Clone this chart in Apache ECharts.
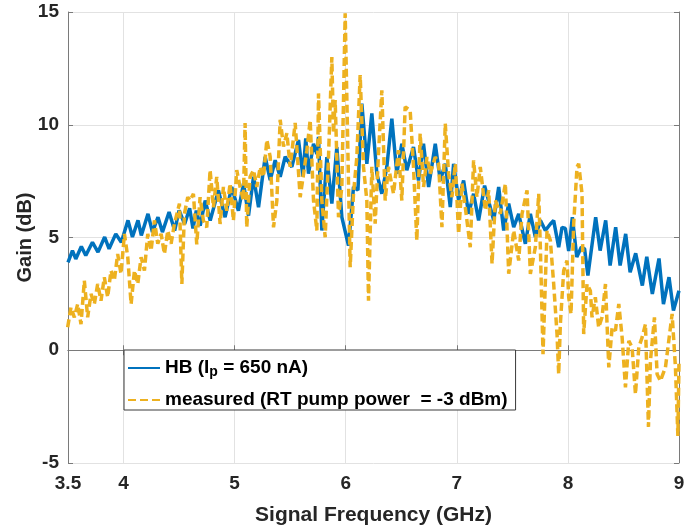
<!DOCTYPE html>
<html><head><meta charset="utf-8">
<script src="https://cdn.jsdelivr.net/npm/echarts@6/dist/echarts.min.js"></script>
<style>html,body{margin:0;padding:0;background:#fff}#c{width:684px;height:527px}</style>
</head><body><div id="c"></div>
<script>
const xTicks = [3.5, 4, 5, 6, 7, 8, 9];
const yTicks = [-5, 0, 5, 10, 15];
const seriesNames = ['HB', 'measured (RT pump power  = -3 dBm)'];

const hbFreq = [3.50,3.54,3.57,3.62,3.66,3.72,3.77,3.83,3.87,3.93,3.98,4.04,4.08,4.13,4.16,4.22,4.26,4.31,4.35,4.41,4.46,4.50,4.55,4.595,4.625,4.655,4.69,4.735,4.78,4.854,4.914,4.974,5.034,5.08,5.125,5.17,5.215,5.275,5.32,5.365,5.41,5.455,5.515,5.575,5.615,5.64,5.665,5.71,5.74,5.755,5.785,5.83,5.875,5.92,5.965,6.025,6.07,6.11,6.145,6.19,6.235,6.28,6.325,6.37,6.415,6.46,6.505,6.55,6.61,6.655,6.70,6.746,6.806,6.851,6.896,6.941,6.971,7.016,7.061,7.106,7.151,7.196,7.25,7.332,7.377,7.422,7.467,7.512,7.557,7.617,7.662,7.707,7.752,7.797,7.842,7.872,7.917,7.947,7.977,8.007,8.04,8.08,8.12,8.15,8.18,8.25,8.29,8.34,8.38,8.43,8.47,8.52,8.56,8.61,8.67,8.71,8.76,8.82,8.86,8.91,8.95,9.0];
const hbGain = [3.9,4.42,4.05,4.6,4.2,4.79,4.35,5.02,4.5,5.16,4.79,5.76,5.02,5.76,5.09,6.05,5.24,5.9,5.24,6.13,5.31,6.2,5.6,6.3,5.4,6.19,5.52,6.64,5.75,7.09,5.9,7.24,6.19,7.39,5.97,7.69,6.34,8.58,7.54,8.43,7.69,8.58,8.13,9.33,7.7,9.4,7.83,9.16,8.7,9.46,5.31,8.57,6.5,9.01,5.9,4.64,7.24,7.1,10.94,8.27,10.5,7.83,6.94,8.13,10.27,7.83,9.16,7.98,9.01,7.53,9.16,7.24,9.16,7.53,8.27,6.35,8.27,6.65,7.53,6.05,6.94,5.76,7.3,5.76,7.24,5.31,6.5,5.46,6.05,4.72,6.05,5.02,5.76,5.31,5.6,5.75,4.57,5.45,5.4,4.4,5.9,4.13,4.57,4.5,3.31,5.9,4.42,5.76,3.76,5.46,3.76,5.16,3.46,4.3,2.87,4.15,2.5,4.07,2.05,3.24,1.76,2.64];

const measFreq = [3.497,3.527,3.557,3.587,3.617,3.647,3.677,3.707,3.737,3.767,3.797,3.827,3.857,3.887,3.917,3.947,3.977,4.008,4.038,4.068,4.098,4.128,4.158,4.188,4.218,4.248,4.278,4.308,4.338,4.368,4.398,4.428,4.458,4.503,4.525,4.548,4.578,4.599,4.629,4.659,4.689,4.719,4.749,4.779,4.809,4.839,4.869,4.899,4.929,4.959,4.989,5.019,5.049,5.079,5.094,5.109,5.139,5.170,5.200,5.230,5.260,5.290,5.320,5.350,5.380,5.410,5.440,5.470,5.500,5.545,5.590,5.62,5.65,5.68,5.71,5.74,5.755,5.785,5.815,5.845,5.875,5.89,5.905,5.935,5.965,5.995,6.04,6.07,6.10,6.13,6.16,6.19,6.205,6.235,6.265,6.295,6.325,6.355,6.385,6.43,6.475,6.505,6.535,6.58,6.61,6.64,6.67,6.701,6.731,6.761,6.806,6.836,6.866,6.896,6.926,6.956,6.986,7.016,7.046,7.076,7.121,7.151,7.181,7.211,7.257,7.287,7.317,7.347,7.392,7.437,7.467,7.512,7.557,7.587,7.632,7.662,7.707,7.737,7.752,7.776,7.812,7.842,7.872,7.902,7.917,7.932,7.962,7.992,8.007,8.028,8.052,8.082,8.097,8.127,8.142,8.172,8.202,8.217,8.247,8.277,8.307,8.338,8.368,8.398,8.428,8.458,8.488,8.518,8.548,8.578,8.608,8.638,8.668,8.698,8.725,8.743,8.779,8.803,8.833,8.878,8.908,8.938,8.968,8.99,9.0];
const measGain = [1.02,1.9,1.46,2.05,1.16,3.09,1.46,2.5,2.05,2.94,2.2,3.24,2.35,3.53,3.09,4.27,3.39,5.16,4.13,2.05,3.53,2.94,4.13,3.53,5.16,4.42,5.76,4.72,5.16,4.27,5.31,4.72,5.61,6.5,2.94,6.05,6.79,6.64,6.94,4.7,6.79,5.75,5.45,7.99,6.34,7.69,5.6,7.24,6.19,7.39,5.75,7.99,7.24,6.64,10.08,5.45,7.69,7.99,7.24,8.13,7.69,9.33,8.58,5.45,6.64,10.22,9.03,9.63,8.13,10.08,6.79,7.8,8.87,10.2,6.64,5.31,11.39,6.64,5.01,8.57,13.0,9.61,11.09,5.9,7.24,14.94,3.68,6.94,8.57,12.2,8.13,6.64,2.2,8.13,5.61,8.72,11.53,6.64,8.13,6.94,8.87,6.64,10.79,10.64,8.13,4.87,9.61,7.24,8.57,7.83,8.57,8.27,5.46,10.05,7.83,6.79,8.27,5.16,7.39,6.35,4.57,8.42,6.79,8.13,6.2,7.09,3.83,6.65,6.05,7.39,3.39,5.31,3.98,6.05,7.09,3.39,4.57,6.94,4.57,-0.17,5.31,4.87,2.94,0.72,-1.06,1.16,3.53,3.98,2.35,1.61,5.6,8.13,8.27,6.94,0.72,2.94,2.64,1.46,2.35,1.01,1.46,2.94,-0.76,1.01,0.87,2.05,0.57,-1.65,0.42,0.13,-1.95,0.13,0.57,1.16,-3.4,-0.47,1.46,-1.06,-1.36,-0.76,0.42,1.61,-0.76,-3.8,-0.5];

const zip = (a, b) => a.map((v, i) => [v, b[i]]);
const FONT = '"Liberation Sans", Arial, sans-serif';
const AX = '#7a7a7a', TXT = '#262626', GRID = '#e2e2e2';

const chart = echarts.init(document.getElementById('c'), null, {renderer: 'canvas'});
const baseX = {
  type: 'value', min: 3.5, max: 9,
  axisLine: {show: true, lineStyle: {color: AX, width: 1}},
  axisTick: {show: true, inside: true, length: 5, customValues: xTicks, lineStyle: {color: AX}},
};
const baseY = {
  type: 'value', min: -5, max: 15, interval: 5,
  axisLine: {show: true, lineStyle: {color: AX, width: 1}},
  axisTick: {show: true, inside: true, length: 5, lineStyle: {color: AX}},
};
chart.setOption({
  animation: false,
  backgroundColor: '#fff',
  grid: {left: 68, right: 5, top: 12, bottom: 64, containLabel: false, outerBoundsMode: 'none'},
  xAxis: [
    Object.assign({}, baseX, {
      position: 'bottom',
      name: 'Signal Frequency (GHz)', nameLocation: 'middle', nameGap: 42, nameMoveOverlap: false,
      nameTextStyle: {fontFamily: FONT, fontWeight: 'bold', fontSize: 21, color: TXT},
      axisLabel: {show: true, customValues: xTicks, margin: 11, fontFamily: FONT, fontWeight: 'bold', fontSize: 19, color: TXT,
        formatter: v => String(v)},
      splitLine: {show: true, lineStyle: {color: GRID, width: 1}}
    }),
    Object.assign({}, baseX, {position: 'top', axisLabel: {show: false}, splitLine: {show: false}})
  ],
  yAxis: [
    Object.assign({}, baseY, {
      position: 'left',
      name: 'Gain (dB)', nameLocation: 'middle', nameGap: 33, nameMoveOverlap: false,
      nameTextStyle: {fontFamily: FONT, fontWeight: 'bold', fontSize: 20, color: TXT},
      axisLabel: {show: true, margin: 9, fontFamily: FONT, fontWeight: 'bold', fontSize: 19, color: TXT},
      splitLine: {show: true, lineStyle: {color: GRID, width: 1}}
    }),
    Object.assign({}, baseY, {position: 'right', axisLabel: {show: false}, splitLine: {show: false}})
  ],
  legend: {
    orient: 'vertical', left: 124, top: 350,
    padding: [7, 8, 0, 3],
    itemGap: 11, itemWidth: 32, itemHeight: 14,
    backgroundColor: '#fff', borderColor: '#3a3a3a', borderWidth: 1, borderRadius: 0,
    itemStyle: {opacity: 0},
    data: seriesNames,
    formatter: name => name === 'HB' ? '{a|HB (I}{s|p}{a| = 650 nA)}' : name,
    textStyle: {fontFamily: FONT, fontWeight: 'bold', fontSize: 19, color: '#000', lineHeight: 20,
      rich: {
        a: {fontFamily: FONT, fontWeight: 'bold', fontSize: 19, color: '#000', lineHeight: 20},
        s: {fontFamily: FONT, fontWeight: 'bold', fontSize: 14, color: '#000', lineHeight: 14, padding: [8, 0, 0, 0]}
      }}
  },
  series: [
    {name: seriesNames[0], type: 'line', data: zip(hbFreq, hbGain), showSymbol: false, symbol: 'none',
      lineStyle: {color: '#0072BD', width: 3.5}, itemStyle: {color: '#0072BD'}, z: 3},
    {name: seriesNames[1], type: 'line', data: zip(measFreq, measGain), showSymbol: false, symbol: 'none',
      lineStyle: {color: '#EDB120', width: 3.5, type: [8, 4]}, itemStyle: {color: '#EDB120'}, z: 4}
  ]
});
</script></body></html>
